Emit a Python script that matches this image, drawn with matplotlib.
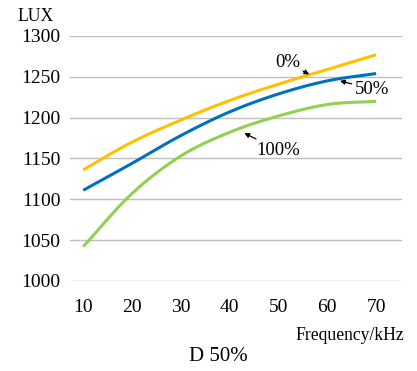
import matplotlib.pyplot as plt
import numpy as np

plt.rcParams['font.family'] = ['Liberation Serif', 'DejaVu Serif']

freq = [10, 20, 30, 40, 50, 60, 70]
lux_0 = [1136, 1170, 1197, 1221, 1241, 1259, 1277]
lux_50 = [1111, 1144, 1178, 1207, 1229, 1245, 1254]
lux_100 = [1042, 1107, 1153, 1182, 1202, 1216, 1220]


def smooth(x, y, n=20):
    # Catmull-Rom style smoothing through the points
    x = np.asarray(x, float)
    y = np.asarray(y, float)
    px = np.concatenate([[2 * x[0] - x[1]], x, [2 * x[-1] - x[-2]]])
    py = np.concatenate([[2 * y[0] - y[1]], y, [2 * y[-1] - y[-2]]])
    xs, ys = [], []
    t = np.linspace(0, 1, n, endpoint=False)
    for i in range(1, len(px) - 2):
        for arr, out in ((px, xs), (py, ys)):
            p0, p1, p2, p3 = arr[i - 1], arr[i], arr[i + 1], arr[i + 2]
            out.extend(0.5 * (2 * p1 + (-p0 + p2) * t
                              + (2 * p0 - 5 * p1 + 4 * p2 - p3) * t ** 2
                              + (-p0 + 3 * p1 - 3 * p2 + p3) * t ** 3))
    xs.append(x[-1])
    ys.append(y[-1])
    return xs, ys


fig = plt.figure(figsize=(4.17, 3.71), dpi=100)
ax = fig.add_axes([0.168, 0.243, 0.796, 0.660])

ax.plot(*smooth(freq, lux_0), color='#ffc000', lw=2.2, solid_capstyle='butt')
ax.plot(*smooth(freq, lux_50), color='#0070c0', lw=2.2, solid_capstyle='butt')
ax.plot(*smooth(freq, lux_100), color='#92d050', lw=2.2, solid_capstyle='butt')

ax.set_xlim(7.3, 75.3)
ax.set_ylim(1000, 1300)
ax.set_xticks(freq)
ax.set_yticks(range(1000, 1301, 50))
ax.grid(axis='y', color='#bfbfbf', lw=1)
ax.set_axisbelow(True)
for s in ax.spines.values():
    s.set_visible(False)
ax.tick_params(length=0, labelsize=14)
ax.tick_params(axis='x', pad=13)
ax.tick_params(axis='y', pad=7)

arrow = dict(arrowstyle='-|>', color='black', lw=0.9, mutation_scale=7,
             shrinkA=0, shrinkB=0)
ax.annotate('0%', xy=(56.3, 1253), xytext=(51.9, 1267), fontsize=13.5,
            ha='center', va='center', arrowprops=arrow)
ax.annotate('50%', xy=(62.6, 1245), xytext=(69.1, 1235), fontsize=13.5,
            ha='center', va='center', arrowprops=arrow)
ax.annotate('100%', xy=(43.0, 1181), xytext=(50.0, 1160), fontsize=13.5,
            ha='center', va='center', arrowprops=arrow)

fig.text(0.043, 0.955, 'LUX', fontsize=12.7, ha='left', va='center')
fig.text(0.97, 0.097, 'Frequency/kHz', fontsize=12.7, ha='right', va='center')
fig.text(0.523, 0.038, 'D 50%', fontsize=15, ha='center', va='center')

fig.savefig('out.png', dpi=100)
